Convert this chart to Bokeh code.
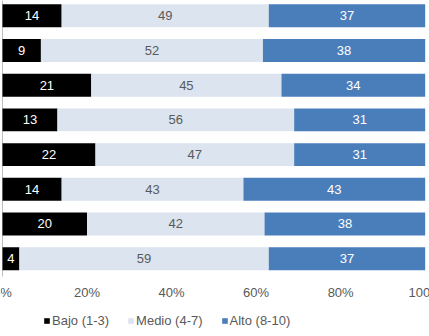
from bokeh.plotting import figure
from bokeh.models import ColumnDataSource, Range1d, Legend, LegendItem, Label
from bokeh.core.properties import value
from bokeh.embed import file_html
from bokeh.resources import INLINE

rows = [0, 1, 2, 3, 4, 5, 6, 7]
bajo = [14, 9, 21, 13, 22, 14, 20, 4]
medio = [49, 52, 45, 56, 47, 43, 42, 59]
alto = [37, 38, 34, 31, 31, 43, 38, 37]
series_names = ["Bajo (1-3)", "Medio (4-7)", "Alto (8-10)"]
series_colors = ["#000000", "#dce4f0", "#4a7ebb"]
label_colors = ["#ffffff", "#595959", "#ffffff"]
tick_vals = [0, 0.2, 0.4, 0.6, 0.8, 1.0]
tick_labels = ["0%", "20%", "40%", "60%", "80%", "100%"]

FONT = "Liberation Sans"
FS = "13px"

p = figure(width=429, height=336, output_backend="svg", toolbar_location=None,
           x_range=Range1d(-0.0047, 1.0102), y_range=Range1d(9.242, -0.44),
           min_border_left=0, min_border_right=0, min_border_top=0, min_border_bottom=0)
p.outline_line_color = None
p.xgrid.visible = False
p.ygrid.visible = False
p.yaxis.visible = False
p.xaxis.visible = False

# vertical category axis line
p.segment(x0=[0], y0=[rows[0] - 0.44], x1=[0], y1=[rows[-1] + 0.51],
          line_color="#bfbfbf", line_width=1)

totals = [a + b + c for a, b, c in zip(bajo, medio, alto)]
series = [bajo, medio, alto]
lefts = [0.0] * len(rows)
renderers = []
for k, vals in enumerate(series):
    fr = [v / t for v, t in zip(vals, totals)]
    rights = [l + f for l, f in zip(lefts, fr)]
    src = ColumnDataSource(dict(y=rows, left=lefts, right=rights,
                                cx=[(l + r) / 2 for l, r in zip(lefts, rights)],
                                txt=[str(v) for v in vals]))
    r = p.hbar(y="y", left="left", right="right", height=0.66, source=src,
               fill_color=series_colors[k], line_color=None)
    renderers.append(r)
    p.text(x="cx", y="y", text="txt", source=src, text_align="center",
           text_baseline="middle", text_font=value(FONT), text_font_size=FS,
           text_color=label_colors[k])
    lefts = rights

for v, t in zip(tick_vals, tick_labels):
    p.add_layout(Label(x=v, y=44, x_units="data", y_units="screen", text=t,
                       text_align="center", text_baseline="middle",
                       text_font=FONT, text_font_size=FS, text_color="#595959"))

legend = Legend(items=[LegendItem(label=n, renderers=[r]) for n, r in zip(series_names, renderers)],
                orientation="horizontal", location=(43, 8),
                glyph_width=7, glyph_height=7, label_standoff=2, spacing=18,
                padding=0, margin=0, border_line_color=None, background_fill_alpha=0,
                label_text_font=FONT, label_text_font_size=FS, label_text_color="#595959")
p.add_layout(legend, "center")

open("out.html", "w").write(file_html(p, INLINE))
